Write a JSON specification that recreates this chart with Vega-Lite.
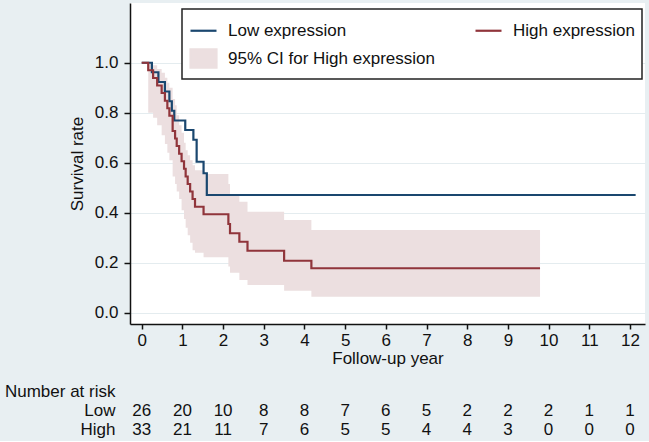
{
  "$schema": "https://vega.github.io/schema/vega-lite/v6.json",
  "background": "#e8eff2",
  "padding": {"left": 4, "top": 3, "right": 4, "bottom": 2},
  "bounds": "flush",
  "spacing": 58,
  "config": {
    "font": "Liberation Sans",
    "view": {"stroke": null},
    "axis": {
      "labelFont": "Liberation Sans",
      "titleFont": "Liberation Sans",
      "labelFontSize": 17,
      "titleFontSize": 17,
      "titleFontWeight": "normal",
      "labelColor": "#111111",
      "titleColor": "#111111"
    }
  },
  "datasets": {
    "km": [
      {"series": "Low expression", "t": 0, "s": 1.0},
      {"series": "Low expression", "t": 0.25, "s": 0.962},
      {"series": "Low expression", "t": 0.41, "s": 0.923},
      {"series": "Low expression", "t": 0.57, "s": 0.885},
      {"series": "Low expression", "t": 0.68, "s": 0.846},
      {"series": "Low expression", "t": 0.74, "s": 0.808},
      {"series": "Low expression", "t": 0.80, "s": 0.769},
      {"series": "Low expression", "t": 1.07, "s": 0.731},
      {"series": "Low expression", "t": 1.27, "s": 0.692},
      {"series": "Low expression", "t": 1.35, "s": 0.604},
      {"series": "Low expression", "t": 1.52, "s": 0.558},
      {"series": "Low expression", "t": 1.60, "s": 0.471},
      {"series": "Low expression", "t": 12.14, "s": 0.471},
      {"series": "High expression", "t": 0, "s": 1.0},
      {"series": "High expression", "t": 0.16, "s": 0.970},
      {"series": "High expression", "t": 0.28, "s": 0.939},
      {"series": "High expression", "t": 0.38, "s": 0.909},
      {"series": "High expression", "t": 0.49, "s": 0.879},
      {"series": "High expression", "t": 0.57, "s": 0.848},
      {"series": "High expression", "t": 0.63, "s": 0.818},
      {"series": "High expression", "t": 0.68, "s": 0.788},
      {"series": "High expression", "t": 0.76, "s": 0.727},
      {"series": "High expression", "t": 0.82, "s": 0.697},
      {"series": "High expression", "t": 0.86, "s": 0.667},
      {"series": "High expression", "t": 0.92, "s": 0.636},
      {"series": "High expression", "t": 0.98, "s": 0.606},
      {"series": "High expression", "t": 1.04, "s": 0.576},
      {"series": "High expression", "t": 1.08, "s": 0.545},
      {"series": "High expression", "t": 1.13, "s": 0.515},
      {"series": "High expression", "t": 1.19, "s": 0.485},
      {"series": "High expression", "t": 1.25, "s": 0.455},
      {"series": "High expression", "t": 1.31, "s": 0.424},
      {"series": "High expression", "t": 1.52, "s": 0.394},
      {"series": "High expression", "t": 2.13, "s": 0.355},
      {"series": "High expression", "t": 2.17, "s": 0.318},
      {"series": "High expression", "t": 2.40, "s": 0.284},
      {"series": "High expression", "t": 2.60, "s": 0.248},
      {"series": "High expression", "t": 3.50, "s": 0.208},
      {"series": "High expression", "t": 4.17, "s": 0.178},
      {"series": "High expression", "t": 9.79, "s": 0.178}
    ],
    "ci": [
      {"t": 0, "lo": 1.0, "hi": 1.0},
      {"t": 0.16, "lo": 0.80, "hi": 0.996},
      {"t": 0.28, "lo": 0.78, "hi": 0.99},
      {"t": 0.38, "lo": 0.75, "hi": 0.975},
      {"t": 0.49, "lo": 0.71, "hi": 0.96},
      {"t": 0.57, "lo": 0.675, "hi": 0.94},
      {"t": 0.63, "lo": 0.64, "hi": 0.92},
      {"t": 0.68, "lo": 0.61, "hi": 0.90},
      {"t": 0.76, "lo": 0.545, "hi": 0.855},
      {"t": 0.82, "lo": 0.515, "hi": 0.83},
      {"t": 0.86, "lo": 0.485, "hi": 0.79},
      {"t": 0.92, "lo": 0.455, "hi": 0.75},
      {"t": 0.98, "lo": 0.41, "hi": 0.72},
      {"t": 1.04, "lo": 0.375, "hi": 0.68},
      {"t": 1.08, "lo": 0.34, "hi": 0.65},
      {"t": 1.13, "lo": 0.31, "hi": 0.63},
      {"t": 1.19, "lo": 0.28, "hi": 0.61},
      {"t": 1.25, "lo": 0.25, "hi": 0.59},
      {"t": 1.31, "lo": 0.24, "hi": 0.57},
      {"t": 1.52, "lo": 0.222, "hi": 0.555},
      {"t": 2.13, "lo": 0.185, "hi": 0.515},
      {"t": 2.17, "lo": 0.16, "hi": 0.475},
      {"t": 2.40, "lo": 0.131, "hi": 0.444},
      {"t": 2.60, "lo": 0.111, "hi": 0.404},
      {"t": 3.50, "lo": 0.088, "hi": 0.371},
      {"t": 4.17, "lo": 0.064, "hi": 0.331},
      {"t": 9.79, "lo": 0.064, "hi": 0.331}
    ],
    "risk": [
      {"row": "Low", "t": 0, "n": 26}, {"row": "Low", "t": 1, "n": 20}, {"row": "Low", "t": 2, "n": 10},
      {"row": "Low", "t": 3, "n": 8}, {"row": "Low", "t": 4, "n": 8}, {"row": "Low", "t": 5, "n": 7},
      {"row": "Low", "t": 6, "n": 6}, {"row": "Low", "t": 7, "n": 5}, {"row": "Low", "t": 8, "n": 2},
      {"row": "Low", "t": 9, "n": 2}, {"row": "Low", "t": 10, "n": 2}, {"row": "Low", "t": 11, "n": 1},
      {"row": "Low", "t": 12, "n": 1},
      {"row": "High", "t": 0, "n": 33}, {"row": "High", "t": 1, "n": 21}, {"row": "High", "t": 2, "n": 11},
      {"row": "High", "t": 3, "n": 7}, {"row": "High", "t": 4, "n": 6}, {"row": "High", "t": 5, "n": 5},
      {"row": "High", "t": 6, "n": 5}, {"row": "High", "t": 7, "n": 4}, {"row": "High", "t": 8, "n": 4},
      {"row": "High", "t": 9, "n": 3}, {"row": "High", "t": 10, "n": 0}, {"row": "High", "t": 11, "n": 0},
      {"row": "High", "t": 12, "n": 0}
    ]
  },
  "vconcat": [
    {
      "width": 515,
      "height": 321,
      "view": {"fill": "white", "stroke": null},
      "layer": [
        {
          "data": {"name": "ci"},
          "mark": {"type": "area", "interpolate": "step-after", "opacity": 1},
          "encoding": {
            "x": {"field": "t", "type": "quantitative"},
            "y": {"field": "lo", "type": "quantitative"},
            "y2": {"field": "hi"},
            "color": {"datum": "95% CI for High expression"}
          }
        },
        {
          "data": {"name": "km"},
          "mark": {"type": "line", "interpolate": "step-after", "strokeWidth": 2.2},
          "encoding": {
            "x": {
              "field": "t", "type": "quantitative",
              "scale": {"domain": [-0.288, 12.37], "nice": false, "zero": false},
              "axis": {
                "values": [0,1,2,3,4,5,6,7,8,9,10,11,12],
                "title": "Follow-up year",
                "grid": false,
                "tickSize": 5, "tickWidth": 1.5, "tickColor": "#111111",
                "domainColor": "#111111", "domainWidth": 1.5,
                "labelPadding": 3, "titlePadding": 2, "labelFlush": false
              }
            },
            "y": {
              "field": "s", "type": "quantitative",
              "scale": {"domain": [-0.045, 1.239], "nice": false, "zero": false},
              "axis": {
                "values": [0, 0.2, 0.4, 0.6, 0.8, 1.0],
                "format": ".1f",
                "title": "Survival rate",
                "grid": true, "gridColor": "#e4ecef", "gridWidth": 1,
                "tickSize": 6, "tickWidth": 1.5, "tickColor": "#111111",
                "domainColor": "#111111", "domainWidth": 1.5,
                "labelPadding": 6, "titlePadding": 8
              }
            },
            "color": {
              "field": "series", "type": "nominal",
              "scale": {
                "domain": ["Low expression", "High expression", "95% CI for High expression"],
                "range": ["#1a476f", "#90353b", "#ecdfe0"]
              },
              "legend": {
                "orient": "none", "legendX": 52, "legendY": 6,
                "direction": "horizontal",
                "title": null, "columns": 2, "columnPadding": 36, "rowPadding": 5,
                "padding": 7, "strokeColor": "#222222", "fillColor": "white",
                "labelFont": "Liberation Sans", "labelFontSize": 17, "labelColor": "#111111",
                "labelLimit": 400, "labelOffset": 10,
                "symbolSize": 676, "symbolStrokeWidth": 2.2,
                "encode": {
                  "legend": {"update": {"strokeWidth": {"value": 1.5}}},
                  "symbols": {
                    "update": {
                      "shape": {"signal": "datum.value === '95% CI for High expression' ? 'M-1,-0.7H1V0.7H-1Z' : 'stroke'"},
                      "fill": {"signal": "datum.value === '95% CI for High expression' ? '#ecdfe0' : 'transparent'"},
                      "stroke": {"signal": "datum.value === 'Low expression' ? '#1a476f' : (datum.value === 'High expression' ? '#90353b' : 'transparent')"},
                      "opacity": {"value": 1}
                    }
                  }
                }
              }
            }
          }
        }
      ]
    },
    {
      "width": 515,
      "height": 57,
      "data": {"name": "risk"},
      "mark": {"type": "text", "fontSize": 17, "font": "Liberation Sans", "color": "#111111"},
      "encoding": {
        "x": {
          "field": "t", "type": "quantitative",
          "scale": {"domain": [-0.288, 12.37], "nice": false, "zero": false},
          "axis": null
        },
        "y": {
          "field": "row", "type": "nominal",
          "scale": {"type": "point", "domain": ["Number at risk", "Low", "High"], "padding": 0.5},
          "axis": {"title": null, "ticks": false, "domain": false, "grid": false, "labelPadding": 15, "labelAlign": "right"}
        },
        "text": {"field": "n", "type": "quantitative"}
      }
    }
  ]
}
